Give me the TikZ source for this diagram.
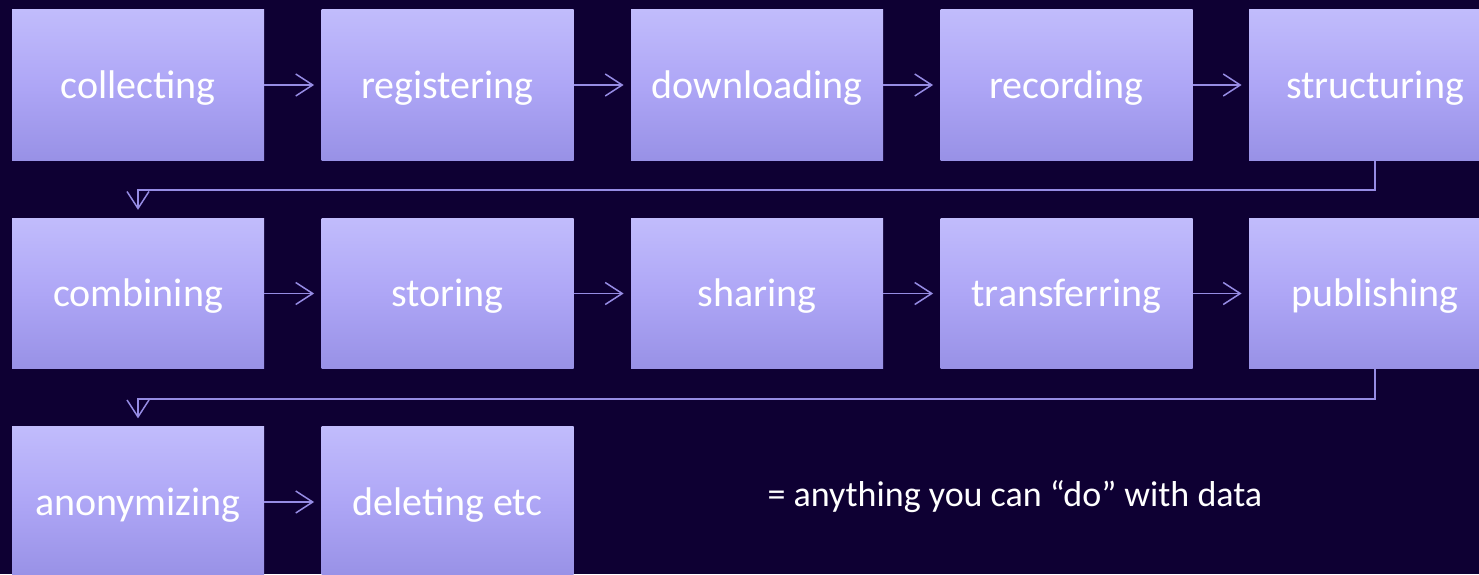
\documentclass[tikz,border=0pt]{standalone}
\usepackage{fontspec}
\setmainfont{Carlito}
\usetikzlibrary{arrows.meta}
\definecolor{bgnavy}{RGB}{14,0,51}
\definecolor{boxtop}{RGB}{193,188,252}
\definecolor{boxmid}{RGB}{174,166,246}
\definecolor{boxbot}{RGB}{152,145,230}
\definecolor{linkcol}{RGB}{150,140,228}
\tikzset{
  stagebox/.style={rectangle, inner sep=0pt, minimum width=126pt, minimum height=75.25pt,
    top color=boxtop, bottom color=boxbot, middle color=boxmid,
    text height=16.6pt, text depth=3.6pt,
    text=white, font=\fontsize{20}{24}\selectfont},
  link/.style={draw=linkcol, line width=0.75pt,
    -{Straight Barb[length=8.5pt,width=11pt,line width=0.75pt]}},
  note/.style={text=white, font=\fontsize{18}{22}\selectfont}
}
\begin{document}
\begin{tikzpicture}[x=0.5pt,y=-0.5pt]
  \useasboundingbox (0,0) rectangle (1479,574);
  \fill[bgnavy] (0,0) rectangle (1479,574);
  \clip (0,0) rectangle (1479,574);
  % row 1
  \node[stagebox] (n1) at (138,85) {collecting};
  \node[stagebox] (n2) at (447.5,85) {registering};
  \node[stagebox] (n3) at (757,85) {downloading};
  \node[stagebox] (n4) at (1066.5,85) {recording};
  \node[stagebox] (n5) at (1375,85) {structuring};
  % row 2
  \node[stagebox] (n6) at (138,293.5) {combining};
  \node[stagebox] (n7) at (447.5,293.5) {storing};
  \node[stagebox] (n8) at (757,293.5) {sharing};
  \node[stagebox] (n9) at (1066.5,293.5) {transferring};
  \node[stagebox] (n10) at (1375,293.5) {publishing};
  % row 3
  \node[stagebox] (n11) at (138,502) {anonymizing};
  \node[stagebox] (n12) at (447.5,502) {deleting etc};
  \node[note] (cap) at (1015,497) {= anything you can “do” with data};
  % connectors
  \foreach \a/\b in {n1/n2,n2/n3,n3/n4,n4/n5,n6/n7,n7/n8,n8/n9,n9/n10,n11/n12}
    \draw[link, shorten >=3.5pt] (\a.east) -- (\b.west);
  \coordinate (w1) at (0,190);
  \coordinate (w2) at (0,399);
  \draw[link, shorten >=4pt] (n5.south) -- (n5.south |- w1) -| (n6.north);
  \draw[link, shorten >=4pt] (n10.south) -- (n10.south |- w2) -| (n11.north);
\end{tikzpicture}
\end{document}
